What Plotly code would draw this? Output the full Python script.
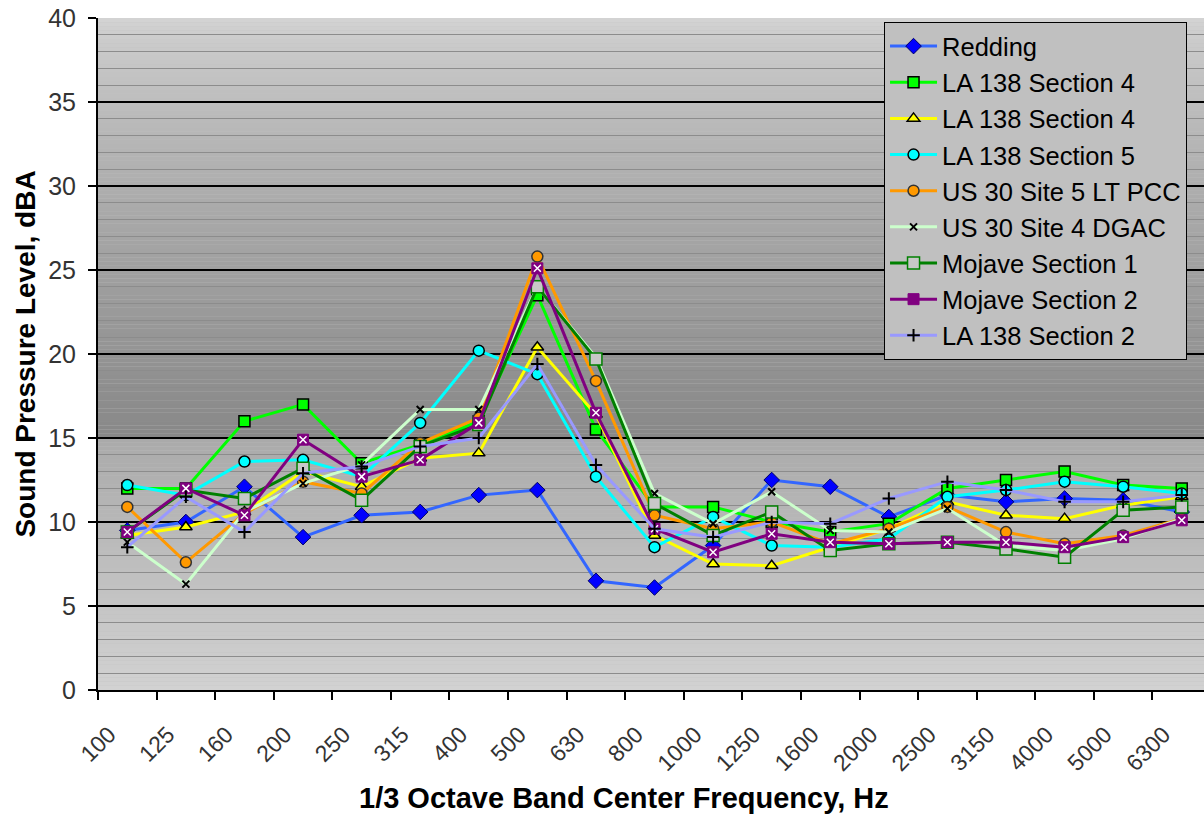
import plotly.graph_objects as go

# 1/3 octave band centre frequencies (Hz)
bands = ["100", "125", "160", "200", "250", "315", "400", "500", "630", "800",
         "1000", "1250", "1600", "2000", "2500", "3150", "4000", "5000", "6300"]

# Sound pressure level per band (dBA)
redding = [9.5, 10.0, 12.1, 9.1, 10.4, 10.6, 11.6, 11.9, 6.5, 6.1,
           8.6, 12.5, 12.1, 10.3, 11.6, 11.2, 11.4, 11.3, 10.6]
la138_s4_a = [12.0, 12.0, 16.0, 17.0, 13.5, 14.6, 16.0, 23.5, 15.5, 10.9,
              10.9, 10.0, 9.4, 9.9, 12.0, 12.5, 13.0, 12.2, 12.0]
la138_s4_b = [9.2, 9.7, 10.6, 13.0, 12.1, 13.8, 14.1, 20.4, 16.4, 9.2,
              7.5, 7.4, 8.5, 9.6, 11.2, 10.4, 10.2, 11.0, 11.5]
la138_s5 = [12.2, 11.6, 13.6, 13.7, 12.7, 15.9, 20.2, 18.8, 12.7, 8.5,
            10.3, 8.6, 8.5, 9.0, 11.5, 11.9, 12.4, 12.1, 11.7]
us30_s5_pcc = [10.9, 7.6, 10.5, 12.4, 11.7, 14.7, 16.2, 25.8, 18.4, 10.4,
               9.6, 10.0, 8.7, 9.6, 10.9, 9.4, 8.7, 9.2, 10.2]
us30_s4_dgac = [8.8, 6.3, 10.6, 12.3, 13.4, 16.7, 16.7, 24.0, 19.8, 11.7,
                9.9, 11.8, 9.5, 9.4, 10.8, 8.6, 8.3, 9.0, 10.2]
mojave_s1 = [9.4, 11.9, 11.4, 13.2, 11.3, 14.5, 15.8, 24.0, 19.7, 11.1,
             9.2, 10.6, 8.3, 8.7, 8.8, 8.4, 7.9, 10.7, 10.9]
mojave_s2 = [9.4, 12.0, 10.4, 14.9, 12.7, 13.7, 15.9, 25.1, 16.5, 9.6,
             8.2, 9.3, 8.8, 8.7, 8.8, 8.8, 8.5, 9.1, 10.1]
la138_s2 = [8.5, 11.5, 9.4, 12.9, 13.3, 14.5, 15.0, 19.4, 13.4, 9.6,
            9.1, 10.0, 9.9, 11.4, 12.4, 11.9, 11.2, 11.2, 11.6]

FONT = "Liberation Sans, Arial, sans-serif"

series = [
    dict(name="Redding", y=redding, line="#3366ff",
         marker=dict(symbol="diamond", size=12, color="#0000ff",
                     line=dict(color="#000066", width=1))),
    dict(name="LA 138 Section 4", y=la138_s4_a, line="#00ff00",
         marker=dict(symbol="square", size=11, color="#00ff00",
                     line=dict(color="#000000", width=1.5))),
    dict(name="LA 138 Section 4", y=la138_s4_b, line="#ffff00",
         marker=dict(symbol="triangle-up", size=11, color="#ffff00",
                     line=dict(color="#000000", width=1.5))),
    dict(name="LA 138 Section 5", y=la138_s5, line="#00ffff",
         marker=dict(symbol="circle", size=11, color="#00ffff",
                     line=dict(color="#000000", width=1.5))),
    dict(name="US 30 Site 5 LT PCC", y=us30_s5_pcc, line="#ff9900",
         marker=dict(symbol="circle", size=11, color="#ff9900",
                     line=dict(color="#333333", width=1.5))),
    dict(name="US 30 Site 4 DGAC", y=us30_s4_dgac, line="#ccffcc",
         marker=dict(symbol="x-thin-open", size=7, color="#000000",
                     line=dict(color="#000000", width=2))),
    dict(name="Mojave Section 1", y=mojave_s1, line="#008000",
         marker=dict(symbol="square", size=12, color="#c8c8c8",
                     line=dict(color="#008000", width=1.5))),
    dict(name="Mojave Section 2", y=mojave_s2, line="#800080",
         marker=dict(symbol="square", size=11, color="#800080",
                     line=dict(color="#800080", width=1))),
    dict(name="LA 138 Section 2", y=la138_s2, line="#9999ff",
         marker=dict(symbol="cross-thin-open", size=9, color="#000000",
                     line=dict(color="#000000", width=2))),
]

fig = go.Figure()
for i, s in enumerate(series):
    fig.add_trace(go.Scatter(
        x=bands, y=s["y"], name=s["name"], mode="lines+markers",
        line=dict(color=s["line"], width=3), marker=s["marker"],
        legendgroup=f"g{i}",
    ))
    if s["name"] == "Mojave Section 2":
        # white cross inside the purple square markers
        fig.add_trace(go.Scatter(
            x=bands, y=s["y"], mode="markers", showlegend=False,
            legendgroup=f"g{i}", hoverinfo="skip",
            marker=dict(symbol="x-thin-open", size=7, color="#ffffff",
                        line=dict(color="#ffffff", width=1.5)),
        ))

# grey band shading of the plot area: light at the top, darkest near 15-20,
# then a lighter ramp from 15 down to 0
def shade(v):
    if v >= 15:
        t = (40 - v) / 25.0
        g = 212 - 76 * (t ** 0.75)
    else:
        t = v / 15.0
        g = 210 - 40 * t
    g = int(round(g))
    return f"rgb({g},{g},{g})"

shapes = []
step = 0.25
v = 0.0
while v < 40 - 1e-9:
    shapes.append(dict(type="rect", xref="paper", yref="y", layer="below",
                       x0=0, x1=1, y0=v, y1=v + step,
                       fillcolor=shade(v + step / 2), line=dict(width=0)))
    v += step

fig.update_layout(
    width=1204, height=814,
    margin=dict(l=98, r=0, t=18, b=124),
    paper_bgcolor="#ffffff", plot_bgcolor="#c0c0c0",
    shapes=shapes,
    font=dict(family=FONT, color="#000000"),
    showlegend=True,
    legend=dict(
        x=0.7107, y=0.994, xanchor="left", yanchor="top",
        bgcolor="#c0c0c0", bordercolor="#000000", borderwidth=1,
        font=dict(family=FONT, size=25.5, color="#000000"),
        tracegroupgap=0, itemwidth=47,
    ),
    xaxis=dict(
        type="category", range=[-0.5, 18.38],
        tickson="boundaries", ticks="outside", ticklen=8, tickwidth=1.5,
        tickcolor="#000000", tickangle=-45,
        tickfont=dict(family=FONT, size=23, color="#333333"),
        ticklabelshift=-18, ticklabelstandoff=20,
        showline=True, linecolor="#000000", linewidth=2,
        showgrid=False, zeroline=False,
    ),
    yaxis=dict(
        range=[0, 40], dtick=5, tick0=0,
        ticks="outside", ticklen=8, tickwidth=1.5, tickcolor="#000000",
        tickfont=dict(family=FONT, size=25, color="#333333"),
        ticklabelstandoff=7,
        showline=True, linecolor="#000000", linewidth=2,
        showgrid=True, gridcolor="#000000", gridwidth=1.5,
        zeroline=False,
        minor=dict(dtick=1, showgrid=True, gridcolor="#8c8c8c", gridwidth=1),
        title=dict(text="<b>Sound Pressure Level, dBA</b>",
                   font=dict(family=FONT, size=28, color="#000000"),
                   standoff=4),
    ),
    annotations=[dict(
        text="<b>1/3 Octave Band Center Frequency, Hz</b>",
        xref="paper", yref="paper", x=0.4756, y=0, yshift=-108,
        xanchor="center", yanchor="middle", showarrow=False,
        font=dict(family=FONT, size=29, color="#000000"),
    )],
)

fig.write_html("out.html")
